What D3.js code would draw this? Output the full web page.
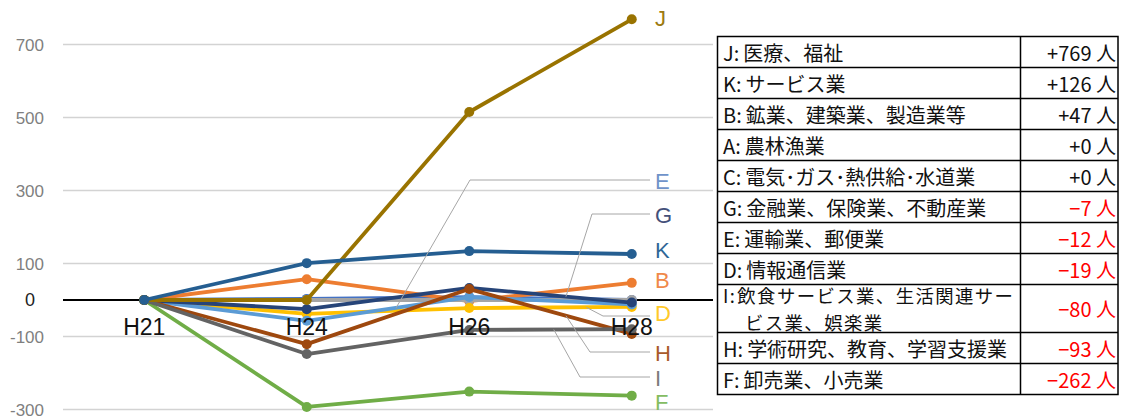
<!DOCTYPE html>
<html><head><meta charset="utf-8">
<script src="https://cdn.jsdelivr.net/npm/d3@7"></script>
<style>
html,body{margin:0;padding:0;background:#fff;}
svg{display:block;}
</style>
</head><body>
<svg id="chart" width="1121" height="419"></svg>
<script>
// ---- data ----
const categories = ["H21", "H24", "H26", "H28"];
const seriesNames = ["A", "B", "C", "D", "E", "F", "G", "H", "I", "J", "K"];
const valuesA = [0, 3, 8, 0];
const valuesB = [0, 57, -3, 47];
const valuesC = [0, 0, 0, 0];
const valuesD = [0, -38, -22, -19];
const valuesE = [0, -57, 8, -12];
const valuesF = [0, -293, -251, -262];
const valuesG = [0, -25, 33, -7];
const valuesH = [0, -121, 30, -93];
const valuesI = [0, -148, -82, -80];
const valuesJ = [0, 0, 515, 769];
const valuesK = [0, 101, 134, 126];
const yTicks = [-300, -100, 100, 300, 500, 700];

const tableCodes = ["J", "K", "B", "A", "C", "G", "E", "D", "I", "H", "F"];
const tableNames = [
  ["医療、福祉"],
  ["サービス業"],
  ["鉱業、建築業、製造業等"],
  ["農林漁業"],
  ["電気･ガス･熱供給･水道業"],
  ["金融業、保険業、不動産業"],
  ["運輸業、郵便業"],
  ["情報通信業"],
  ["飲食サービス業、生活関連サー", "ビス業、娯楽業"],
  ["学術研究、教育、学習支援業"],
  ["卸売業、小売業"]
];
const tableValues = [769, 126, 47, 0, 0, -7, -12, -19, -80, -93, -262];

// ---- styles / layout ----
const seriesValues = {A: valuesA, B: valuesB, C: valuesC, D: valuesD, E: valuesE, F: valuesF,
  G: valuesG, H: valuesH, I: valuesI, J: valuesJ, K: valuesK};
const colors = {A: "#4472C4", B: "#ED7D31", C: "#A5A5A5", D: "#FFC000", E: "#5B9BD5", F: "#70AD47",
  G: "#264478", H: "#9E480E", I: "#636363", J: "#997300", K: "#255E91"};
const labelColors = {A: "#4472C4", B: "#F0894A", C: "#A5A5A5", D: "#FFC929", E: "#6F93C9", F: "#84BC62",
  G: "#44507A", H: "#A85A2A", I: "#7a7a7a", J: "#9C7A10", K: "#2F6797"};
// label layout: pixel y of the label, optional leader (segment start index, fraction, elbow x, leader y)
const labelLayout = {
  J: {y: 18}, E: {y: 181, seg: 1, t: 0.55, elbow: 470, ly: 180},
  G: {y: 215, seg: 2, t: 0.595, elbow: 592, ly: 214},
  K: {y: 250}, B: {y: 280},
  D: {y: 313, seg: 2, t: 0.72, elbow: 603, ly: 316},
  H: {y: 353, seg: 2, t: 0.595, elbow: 590, ly: 352},
  I: {y: 378, seg: 2, t: 0.52, elbow: 580, ly: 377},
  F: {y: 402}
};

const svg = d3.select("#chart");
const x = d3.scaleBand().domain(categories).range([63, 713]).padding(0);
const cx = c => x(c) + x.bandwidth() / 2;
const y = d3.scaleLinear().domain([-300, 700]).range([409.5, 44.5]);

// gridlines
svg.append("g").selectAll("line").data(yTicks).join("line")
  .attr("x1", 63).attr("x2", 713)
  .attr("y1", d => y(d)).attr("y2", d => y(d))
  .attr("stroke", "#d3d3d3").attr("stroke-width", 1.5);

// y labels
const yAxis = d3.axisLeft(y).tickValues(yTicks).tickSize(0).tickPadding(0).tickFormat(d => String(d));
const ya = svg.append("g").attr("transform", "translate(44,0)").call(yAxis);
ya.select(".domain").remove();
ya.selectAll("text").attr("font-family", "Liberation Sans, Arial, sans-serif")
  .attr("font-size", 17).attr("fill", "#7f7f7f").attr("dy", "0.36em");
svg.append("text").attr("x", 35).attr("y", y(0)).attr("dy", "0.36em")
  .attr("text-anchor", "end").attr("font-family", "Liberation Sans, Arial, sans-serif")
  .attr("font-size", 18).attr("fill", "#222").text("0");

// zero line
svg.append("line").attr("x1", 63).attr("x2", 713).attr("y1", y(0)).attr("y2", y(0))
  .attr("stroke", "#000").attr("stroke-width", 2.2);

// series
const line = d3.line().x((d, i) => cx(categories[i])).y(d => y(d));
seriesNames.forEach(n => {
  const g = svg.append("g");
  g.append("path").datum(seriesValues[n]).attr("d", line)
    .attr("fill", "none").attr("stroke", colors[n]).attr("stroke-width", 3.8)
    .attr("stroke-linejoin", "round");
  g.selectAll("circle").data(seriesValues[n]).join("circle")
    .attr("cx", (d, i) => cx(categories[i])).attr("cy", d => y(d)).attr("r", 5)
    .attr("fill", colors[n]);
});

// category labels
svg.append("g").selectAll("text").data(categories).join("text")
  .attr("x", d => cx(d)).attr("y", 335).attr("text-anchor", "middle")
  .attr("font-family", "Liberation Sans, Arial, sans-serif").attr("font-size", 23)
  .attr("fill", "#111").text(d => d);

// leader lines and labels
Object.keys(labelLayout).forEach(n => {
  const L = labelLayout[n];
  if (L.seg !== undefined) {
    const v = seriesValues[n];
    const x0 = cx(categories[L.seg]), x1 = cx(categories[L.seg + 1]);
    const ax = x0 + (x1 - x0) * L.t;
    const av = v[L.seg] + (v[L.seg + 1] - v[L.seg]) * L.t;
    svg.append("polyline")
      .attr("points", [[ax, y(av)], [L.elbow, L.ly], [650, L.ly]].map(p => p.join(",")).join(" "))
      .attr("fill", "none").attr("stroke", "#a6a6a6").attr("stroke-width", 1);
  }
  svg.append("text").attr("x", 655).attr("y", L.y).attr("dy", "0.36em")
    .attr("font-family", "Liberation Sans, Arial, sans-serif").attr("font-size", 22)
    .attr("fill", labelColors[n]).text(n);
});

// table
const rowHeights = tableNames.map(r => r.length > 1 ? 48 : 31);
const tLeft = 717.5, tMid = 1020.5, tRight = 1118, tTop = 36.5;
let acc = tTop;
const rowTops = rowHeights.map(h => { const t = acc; acc += h; return t; });
const tBottom = acc;
const tg = svg.append("g");
tg.append("rect").attr("x", tLeft).attr("y", tTop).attr("width", tRight - tLeft).attr("height", tBottom - tTop)
  .attr("fill", "#fff").attr("stroke", "#000").attr("stroke-width", 1.5);
tg.append("line").attr("x1", tMid).attr("x2", tMid).attr("y1", tTop).attr("y2", tBottom)
  .attr("stroke", "#000").attr("stroke-width", 1.5);
rowTops.slice(1).forEach(t => {
  tg.append("line").attr("x1", tLeft).attr("x2", tRight).attr("y1", t).attr("y2", t)
    .attr("stroke", "#000").attr("stroke-width", 1.5);
});
const jp = "'Noto Sans CJK JP', sans-serif";
tableCodes.forEach((code, i) => {
  const top = rowTops[i], h = rowHeights[i];
  const names = tableNames[i];
  const mid = top + h / 2;
  const multi = names.length > 1;
  const lineYs = multi ? [mid - 13.3, mid + 13.3] : [mid];
  names.forEach((nm, j) => {
    const t = tg.append("text").attr("y", lineYs[j]).attr("dominant-baseline", "central")
      .attr("font-family", jp).attr("font-size", multi ? 18.4 : 20)
      .attr("letter-spacing", multi ? 1.4 : 0).attr("fill", "#111");
    if (j === 0) {
      t.append("tspan").attr("x", 723).text(code + ":");
      t.append("tspan").attr("dx", code === "I" ? 1 : 4).text(nm);
    } else {
      t.append("tspan").attr("x", 745).text(nm);
    }
  });
  const v = tableValues[i];
  tg.append("text").attr("x", 1116).attr("y", mid).attr("dominant-baseline", "central")
    .attr("text-anchor", "end").attr("font-family", jp).attr("font-size", 20)
    .attr("fill", v < 0 ? "#ff0000" : "#111")
    .text((v < 0 ? "−" + Math.abs(v) : "+" + v) + " 人");
});
</script>
</body></html>
